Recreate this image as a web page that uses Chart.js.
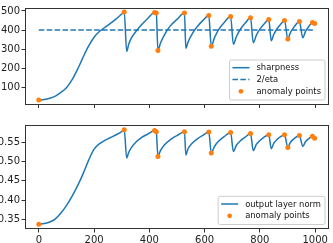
<!DOCTYPE html>
<html>
<head>
<meta charset="utf-8">
<script src="https://cdn.jsdelivr.net/npm/chart.js@4.4.0/dist/chart.umd.min.js"></script>
<style>
  html, body { margin: 0; padding: 0; background: #fff; }
  #wrap { position: relative; width: 333px; height: 243px; overflow: hidden; }
  #top { position: absolute; left: 0; top: 0; }
  #bottom { position: absolute; left: 0; top: 115px; }
</style>
</head>
<body>
<div id="wrap">
  <canvas id="top" width="333" height="115"></canvas>
  <canvas id="bottom" width="333" height="128"></canvas>
</div>
<script>
// training steps and the two tracked quantities
var steps = [0, 20, 40, 60, 80, 100, 120, 140, 160, 180, 200, 220, 240, 260, 280, 300, 309,
  318, 325, 335, 350, 370, 395, 419, 425,
  431, 440, 455, 475, 500, 527,
  532, 540, 555, 575, 595, 615,
  624, 635, 650, 670, 694,
  704, 715, 730, 747, 766,
  776, 787, 800, 815, 832,
  841, 850, 862, 875, 889,
  901, 910, 922, 943,
  955, 965, 977, 990, 998];
var sharpness = [35, 38, 45, 56, 75, 100, 140, 195, 258, 316, 363, 394, 415, 436, 459, 484, 495,
  289, 325, 360, 390, 425, 462, 492, 489,
  294, 332, 377, 421, 456, 489,
  305, 338, 381, 421, 452, 476,
  316, 358, 401, 439, 471,
  326, 367, 406, 437, 464,
  334, 373, 405, 432, 455,
  345, 377, 407, 430, 450,
  354, 386, 413, 445,
  360, 393, 419, 440, 434];
var outputNorm = [0.338, 0.340, 0.344, 0.352, 0.367, 0.386, 0.410, 0.437, 0.468, 0.503, 0.532, 0.546, 0.555, 0.562, 0.569, 0.577, 0.582,
  0.509, 0.523, 0.536, 0.549, 0.561, 0.571, 0.580, 0.577,
  0.513, 0.528, 0.543, 0.556, 0.567, 0.577,
  0.517, 0.533, 0.547, 0.559, 0.568, 0.576,
  0.522, 0.538, 0.552, 0.564, 0.575,
  0.526, 0.542, 0.554, 0.563, 0.572,
  0.528, 0.544, 0.554, 0.563, 0.569,
  0.533, 0.547, 0.557, 0.564, 0.569,
  0.536, 0.549, 0.558, 0.567,
  0.539, 0.551, 0.559, 0.565, 0.560];
var anomalySteps = [0, 309, 419, 425, 431, 527, 615, 624, 694, 766, 832, 889, 901, 943, 990, 998];
var eta2 = 400;

var xTicks = [0, 200, 400, 600, 800, 1000];
var sharpTicks = [100, 200, 300, 400, 500];
var normTicks = [0.35, 0.40, 0.45, 0.50, 0.55];

var BLUE = '#1f77b4', ORANGE = '#ff7f0e', AXIS = '#333';

function pts(ys) {
  return steps.map(function (s, i) { return { x: s, y: ys[i] }; });
}
function anomalyPts(ys) {
  return anomalySteps.map(function (s) { return { x: s, y: ys[steps.indexOf(s)] }; });
}

// frame around the plot + matplotlib-ish legend in the lower right
var framePlugin = {
  id: 'frame',
  afterDatasetsDraw: function (chart) {
    var a = chart.chartArea, ctx = chart.ctx;
    ctx.save();
    ctx.strokeStyle = AXIS;
    ctx.lineWidth = 1;
    ctx.strokeRect(Math.round(a.left) + 0.5, Math.round(a.top) + 0.5,
      Math.round(a.right) - Math.round(a.left) - 1, Math.round(a.bottom) - Math.round(a.top) - 1);

    var items = chart.options.plugins.frame.items;
    ctx.font = '8.4px "DejaVu Sans"';
    var maxW = 0;
    items.forEach(function (it) { maxW = Math.max(maxW, ctx.measureText(it.label).width); });
    var rowH = 11.8;
    var boxR = a.right - 4.5, boxB = a.bottom - 5;
    var boxT = boxB - items.length * rowH - 4.6;
    var textX = boxR - 3.5 - maxW;
    var h1 = textX - 7 - 17, h2 = textX - 7;
    var boxL = h1 - 3.5;
    ctx.beginPath();
    if (ctx.roundRect) ctx.roundRect(boxL + 0.5, boxT + 0.5, boxR - boxL, boxB - boxT, 2);
    else ctx.rect(boxL + 0.5, boxT + 0.5, boxR - boxL, boxB - boxT);
    ctx.fillStyle = 'rgba(255,255,255,0.8)';
    ctx.fill();
    ctx.strokeStyle = '#cccccc';
    ctx.stroke();
    items.forEach(function (it, i) {
      var y = boxT + 2.3 + rowH * (i + 0.5);
      if (it.kind === 'dot') {
        ctx.beginPath();
        ctx.arc((h1 + h2) / 2, y, 2.4, 0, Math.PI * 2);
        ctx.fillStyle = ORANGE;
        ctx.fill();
      } else {
        ctx.beginPath();
        ctx.setLineDash(it.kind === 'dash' ? [5.5, 2.4] : []);
        ctx.moveTo(h1, y);
        ctx.lineTo(h2, y);
        ctx.strokeStyle = BLUE;
        ctx.lineWidth = 1.5;
        ctx.stroke();
        ctx.setLineDash([]);
      }
      ctx.fillStyle = '#111';
      ctx.textBaseline = 'middle';
      ctx.textAlign = 'left';
      ctx.fillText(it.label, textX, y + 0.5);
    });
    ctx.restore();
  }
};

function makeChart(id, datasets, yMin, yMax, yTicks, yFmt, showXLabels, pad, xAxisH, legendItems) {
  return new Chart(id, {
    type: 'line',
    data: { datasets: datasets },
    plugins: [framePlugin],
    options: {
      responsive: false,
      animation: false,
      layout: { padding: pad },
      plugins: {
        legend: { display: false },
        tooltip: { enabled: false },
        frame: { items: legendItems }
      },
      scales: {
        x: {
          type: 'linear',
          min: -50, max: 1050,
          afterBuildTicks: function (s) { s.ticks = xTicks.map(function (v) { return { value: v }; }); },
          afterFit: function (s) { s.height = xAxisH; },
          grid: { drawOnChartArea: false, drawTicks: true, tickLength: 3.5, color: AXIS },
          border: { display: false },
          ticks: {
            display: showXLabels, padding: 2, maxRotation: 0,
            color: '#222', font: { family: 'DejaVu Sans', size: 10 },
            callback: function (v) { return String(v); }
          }
        },
        y: {
          min: yMin, max: yMax,
          afterBuildTicks: function (s) { s.ticks = yTicks.map(function (v) { return { value: v }; }); },
          afterFit: function (s) { s.width = 25; },
          grid: { drawOnChartArea: false, drawTicks: true, tickLength: 3.5, color: AXIS },
          border: { display: false },
          ticks: {
            padding: 1.5, color: '#222', font: { family: 'DejaVu Sans', size: 10 },
            callback: yFmt
          }
        }
      }
    }
  });
}

makeChart('top', [
  { data: pts(sharpness), borderColor: BLUE, borderWidth: 1.5, pointRadius: 0,
    cubicInterpolationMode: 'monotone', order: 3 },
  { data: [{ x: 0, y: eta2 }, { x: 1000, y: eta2 }], borderColor: BLUE, borderWidth: 1.5,
    borderDash: [5.5, 2.4], pointRadius: 0, order: 2 },
  { type: 'scatter', data: anomalyPts(sharpness), backgroundColor: ORANGE, borderWidth: 0,
    pointRadius: 2.5, order: 1 }
], 12, 518, sharpTicks, function (v) { return String(v); }, false,
  { top: 1, right: 2, left: 0, bottom: 0 }, 10.5,
  [{ label: 'sharpness', kind: 'line' }, { label: '2/eta', kind: 'dash' }, { label: 'anomaly points', kind: 'dot' }]);

makeChart('bottom', [
  { data: pts(outputNorm), borderColor: BLUE, borderWidth: 1.5, pointRadius: 0,
    cubicInterpolationMode: 'monotone', order: 2 },
  { type: 'scatter', data: anomalyPts(outputNorm), backgroundColor: ORANGE, borderWidth: 0,
    pointRadius: 2.5, order: 1 }
], 0.3258, 0.5942, normTicks, function (v) { return v.toFixed(2); }, true,
  { top: 10, right: 2, left: 0, bottom: 0 }, 14,
  [{ label: 'output layer norm', kind: 'line' }, { label: 'anomaly points', kind: 'dot' }]);
</script>
</body>
</html>
